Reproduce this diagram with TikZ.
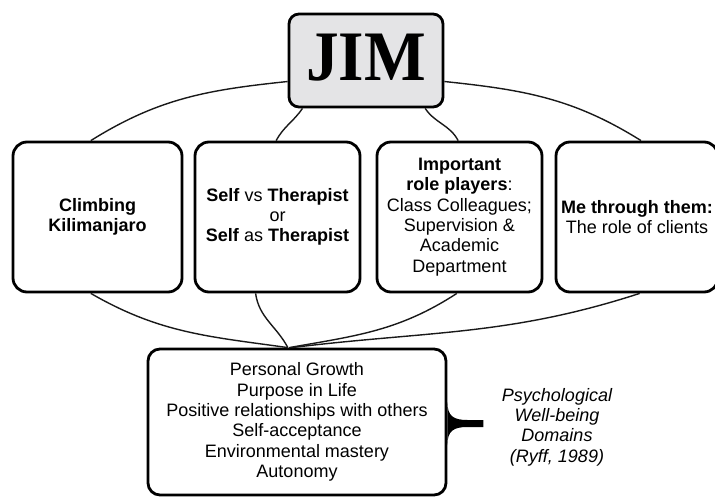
\documentclass[tikz,border=0pt]{standalone}
\usepackage{fontspec}
\setmainfont{Liberation Sans}
\newfontfamily\jimfont{Liberation Serif}
\definecolor{jimgray}{HTML}{E4E4E6}
\begin{document}
\begin{tikzpicture}[x=1pt,y=-1pt,
  box/.style={draw, line width=2.8pt, rounded corners=14pt, align=center, inner sep=0pt,
    font=\fontsize{18}{20.3}\selectfont},
  rowbox/.style={box, minimum height=150pt},
  link/.style={line width=1.4pt, black!90}]
\useasboundingbox (0,0) rectangle (715,498);
\clip (0,0) rectangle (715,498);

% top node
\node[box, rounded corners=10pt, fill=jimgray, minimum width=154pt, minimum height=93pt,
      text height=47pt, text depth=8pt, font=\jimfont\fontsize{71}{71}\selectfont\bfseries]
  (jim) at (366,60.5) {\scalebox{0.92}[1]{JIM}};

% row of boxes
\node[rowbox, minimum width=169pt] (b1) at (97.5,217) {\textbf{Climbing}\\\textbf{Kilimanjaro}};
\node[rowbox, minimum width=165pt] (b2) at (277.5,217) {\textbf{Self} vs \textbf{Therapist}\\or\\\textbf{Self} as \textbf{Therapist}};
\node[rowbox, minimum width=165pt] (b3) at (459.5,217) {\textbf{Important}\\\textbf{role players}:\\Class Colleagues;\\Supervision \&\\Academic\\Department};
\node[rowbox, minimum width=162pt] (b4) at (637,217) {\textbf{Me through them:}\\The role of clients};

% bottom box
\node[box, rounded corners=12pt, minimum width=298pt, minimum height=146pt] (bot) at (297,422)
  {Personal Growth\\Purpose in Life\\Positive relationships with others\\Self-acceptance\\Environmental mastery\\Autonomy};

% brace
\begin{scope}[shift={(bot.east)}]
  \fill[black] (0,-20) .. controls (0,-6) and (6,-2) .. (20,-2) -- (36,-2) -- (36,5) -- (20,5)
    .. controls (6,5) and (0,9) .. (0,23) -- cycle;
\end{scope}

\node[align=center, font=\fontsize{18}{20.3}\selectfont\itshape] (ryff) at (557,427)
  {Psychological\\Well-being\\Domains\\(Ryff, 1989)};

% connectors from JIM
\draw[link] (jim.195.6) to[out=186,in=32] (b1.95.7);
\draw[link] (jim.217.3) to[out=236,in=62] (b2.91.9);
\draw[link] (jim.-39.2) to[out=-56,in=118] (b3.91.9);
\draw[link] (jim.-15.6) to[out=-6,in=148] (b4.87.7);

% connectors to bottom box
\draw[link] (b1.265.8) to[out=-30,in=172] (bot.97);
\draw[link] (b2.254) to[out=-82,in=118] (bot.97);
\draw[link] (b3.268.1) to[out=213,in=10] (bot.96);
\draw[link] (b4.272.3) to[out=198,in=7] (bot.94);
\end{tikzpicture}
\end{document}
